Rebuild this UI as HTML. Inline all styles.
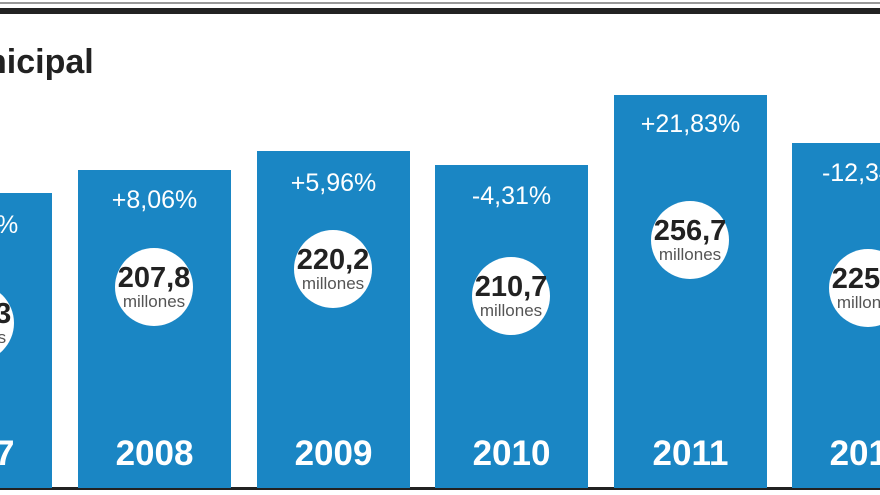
<!DOCTYPE html>
<html><head><meta charset="utf-8"><style>
html,body{margin:0;width:880px;height:495px;overflow:hidden;background:#fff;font-family:"Liberation Sans",sans-serif;position:relative}
.b{position:absolute;background:#1a86c4;bottom:7px;width:153px}
.p{position:absolute;width:153px;text-align:center;color:#fff;font-size:25px;left:0}
.c{position:absolute;width:78px;height:78px;border-radius:50%;background:#fff;left:37px;text-align:center;color:#222}
.c b{display:block;font-size:29px;margin-top:15px;line-height:30px}
.c span{display:block;font-size:17px;color:#555;line-height:18px}
.y{position:absolute;bottom:14px;width:153px;text-align:center;color:#fff;font-weight:bold;font-size:35px;left:0}
</style></head><body>
<div style="position:absolute;left:0;top:2px;width:880px;height:2px;background:#999"></div>
<div style="position:absolute;left:0;top:8px;width:880px;height:6px;background:#222"></div>
<div style="position:absolute;left:0;top:487px;width:880px;height:3px;background:#222"></div>
<div style="position:absolute;left:-14px;top:43px;font-size:34px;font-weight:bold;color:#222">nicipal</div>

<div class="b" style="left:-101px;top:193px"><div class="p" style="top:18px">+7,71%</div><div class="c" style="top:91px"><b>192,3</b><span>millones</span></div><div class="y">2007</div></div>
<div class="b" style="left:78px;top:170px"><div class="p" style="top:16px">+8,06%</div><div class="c" style="top:78px"><b>207,8</b><span>millones</span></div><div class="y">2008</div></div>
<div class="b" style="left:257px;top:151px"><div class="p" style="top:18px">+5,96%</div><div class="c" style="top:79px"><b>220,2</b><span>millones</span></div><div class="y">2009</div></div>
<div class="b" style="left:435px;top:165px"><div class="p" style="top:17px">-4,31%</div><div class="c" style="top:92px"><b>210,7</b><span>millones</span></div><div class="y">2010</div></div>
<div class="b" style="left:614px;top:95px"><div class="p" style="top:15px">+21,83%</div><div class="c" style="top:106px"><b>256,7</b><span>millones</span></div><div class="y">2011</div></div>
<div class="b" style="left:792px;top:143px"><div class="p" style="top:16px">-12,34%</div><div class="c" style="top:106px"><b>225,0</b><span>millones</span></div><div class="y">2012</div></div>
</body></html>
